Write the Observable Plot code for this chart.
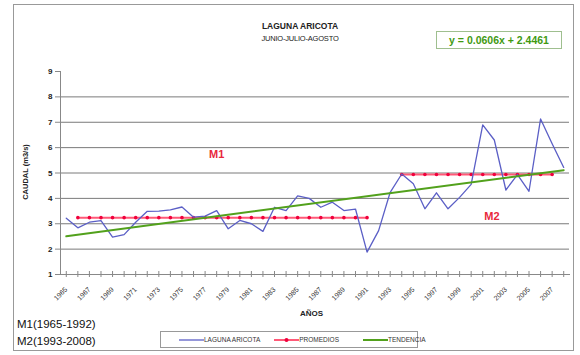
<!DOCTYPE html>
<html>
<head>
<meta charset="utf-8">
<script src="https://cdn.jsdelivr.net/npm/d3@7"></script>
<script src="https://cdn.jsdelivr.net/npm/@observablehq/plot@0.6"></script>
<style>
  html, body { margin: 0; padding: 0; background: #fff; }
  #wrap { position: relative; width: 580px; height: 355px; overflow: hidden; font-family: "Liberation Sans", Arial, sans-serif; background:#fff; }
  #wrap > svg { position: absolute; left: 0; top: 0; }
  .abs { position: absolute; white-space: nowrap; }
  .sw { display: inline-block; vertical-align: middle; }
</style>
</head>
<body>
<div id="wrap"></div>
<script>
// ---- data ----
const years = [1965,1966,1967,1968,1969,1970,1971,1972,1973,1974,1975,1976,1977,1978,1979,1980,1981,1982,1983,1984,1985,1986,1987,1988,1989,1990,1991,1992,1993,1994,1995,1996,1997,1998,1999,2000,2001,2002,2003,2004,2005,2006,2007,2008];
const caudal = [3.22,2.84,3.06,3.12,2.47,2.57,3.06,3.49,3.50,3.55,3.66,3.26,3.30,3.52,2.80,3.13,3.00,2.70,3.65,3.52,4.10,4.00,3.65,3.85,3.52,3.58,1.88,2.73,4.24,4.96,4.58,3.59,4.22,3.59,4.04,4.55,6.90,6.30,4.33,4.94,4.28,7.13,6.15,5.22];
const m1Years = [1966,1967,1968,1969,1970,1971,1972,1973,1974,1975,1976,1977,1978,1979,1980,1981,1982,1983,1984,1985,1986,1987,1988,1989,1990,1991];
const m1Value = 3.24;
const m2Years = [1994,1995,1996,1997,1998,1999,2000,2001,2002,2003,2004,2005,2006,2007];
const m2Value = 4.94;
const trendSlope = 0.0606, trendIntercept = 2.4461; // y = 0.0606x + 2.4461, x = 1..44
const yTicks = [1,2,3,4,5,6,7,8,9];
const gridValues = [2,3,4,5,6,7,8];
const xLabelYears = [1965,1967,1969,1971,1973,1975,1977,1979,1981,1983,1985,1987,1989,1991,1993,1995,1997,1999,2001,2003,2005,2007];

// ---- tables ----
const serie = years.map((y, i) => ({year: y, v: caudal[i]}));
const prom1 = m1Years.map(y => ({year: y, v: m1Value, g: "M1"}));
const prom2 = m2Years.map(y => ({year: y, v: m2Value, g: "M2"}));
const prom = prom1.concat(prom2);
const trend = [years[0], years[years.length - 1]].map(y => ({year: y, v: trendSlope * (y - years[0] + 1) + trendIntercept}));

const blue = "#5b5fc6", red = "#f0003c", pink = "#ff5a78", green = "#52a11c";

const chart = Plot.plot({
  width: 580, height: 355,
  marginLeft: 60, marginRight: 11, marginTop: 71, marginBottom: 81,
  style: {fontFamily: "'Liberation Sans', Arial, sans-serif", fontSize: "8px", background: "transparent", color: "#222"},
  x: {domain: [1964.5, 2008.5]},
  y: {domain: [1, 9]},
  marks: [
    Plot.ruleY(gridValues, {stroke: "#7a7a7a", strokeWidth: 1}),
    Plot.frame({anchor: "left", stroke: "#888"}),
    Plot.frame({anchor: "bottom", stroke: "#888"}),
    Plot.axisY({ticks: yTicks, tickSize: 5, tickPadding: 3, fontWeight: "bold", fontSize: 8, stroke: "#888", label: null, tickFormat: d => String(d)}),
    Plot.axisX({ticks: years, tickSize: 3, text: null, stroke: "#888", label: null}),
    Plot.axisX({ticks: years, tickSize: 3, text: null, stroke: "#888", label: null, dy: -3}),
    Plot.axisX({ticks: xLabelYears, tickSize: 0, tickPadding: 14, tickRotate: -45, fontSize: 7, label: null, fill: "#333", tickFormat: d => String(d)}),
    Plot.line(prom, {x: "year", y: "v", z: "g", stroke: pink, strokeWidth: 2}),
    Plot.dot(prom, {x: "year", y: "v", r: 1.8, fill: red, stroke: "none"}),
    Plot.line(serie, {x: "year", y: "v", stroke: blue, strokeWidth: 1.3}),
    Plot.line(trend, {x: "year", y: "v", stroke: green, strokeWidth: 2}),
    Plot.text([{year: 1978, v: 5.75, t: "M1"}, {year: 2001.8, v: 3.3, t: "M2"}], {x: "year", y: "v", text: "t", fill: "#e8283c", fontWeight: "bold", fontSize: 11})
  ]
});

const wrap = document.getElementById("wrap");
wrap.appendChild(chart);

function addDiv(html, css) {
  const d = document.createElement("div");
  d.className = "abs";
  d.innerHTML = html;
  Object.assign(d.style, css);
  wrap.appendChild(d);
  return d;
}
// outer border
addDiv("", {left: "13px", top: "4px", width: "561px", height: "347px", border: "1px solid #999", boxSizing: "border-box"});
// titles
addDiv("LAGUNA ARICOTA", {left: "0px", width: "600px", textAlign: "center", top: "21px", fontSize: "8.5px", fontWeight: "bold", color: "#222"});
addDiv("JUNIO-JULIO-AGOSTO", {left: "0px", width: "600px", textAlign: "center", top: "34px", fontSize: "7.5px", color: "#222", letterSpacing: "-0.2px"});
// equation box
addDiv("y = 0.0606x + 2.4461", {left: "436px", top: "31px", width: "126px", height: "18px", border: "1px solid #9fbf8f", boxSizing: "border-box", color: "#3f9a12", fontSize: "10.5px", fontWeight: "bold", textAlign: "center", lineHeight: "16px"});
// axis titles
addDiv("CAUDAL (m3/s)", {left: "25px", top: "172px", fontSize: "7.5px", fontWeight: "bold", color: "#222", transform: "translate(-50%,-50%) rotate(-90deg)"});
addDiv("AÑOS", {left: "300px", top: "309px", fontSize: "8px", fontWeight: "bold", color: "#222"});
// footnotes
addDiv("M1(1965-1992)", {left: "17px", top: "318px", fontSize: "11.5px", color: "#111"});
addDiv("M2(1993-2008)", {left: "17px", top: "335px", fontSize: "11.5px", color: "#111"});
// legend
const sw = (c, w, dot) => `<svg class="sw" width="25" height="6"><line x1="0" y1="3" x2="25" y2="3" stroke="${c}" stroke-width="${w}"/>${dot ? `<circle cx="12.5" cy="3" r="2" fill="${red}"/>` : ""}</svg>`;
addDiv(`<span>${sw(blue, 1.3)}LAGUNA ARICOTA</span><span style="margin-left:14px">${sw(pink, 2, true)}PROMEDIOS</span><span style="margin-left:24px">${sw(green, 2)}TENDENCIA</span>`,
  {left: "160px", top: "331px", width: "258px", height: "17px", border: "1px solid #999", boxSizing: "border-box", fontSize: "6.5px", color: "#333", lineHeight: "15px", paddingLeft: "18px"});
</script>
</body>
</html>
